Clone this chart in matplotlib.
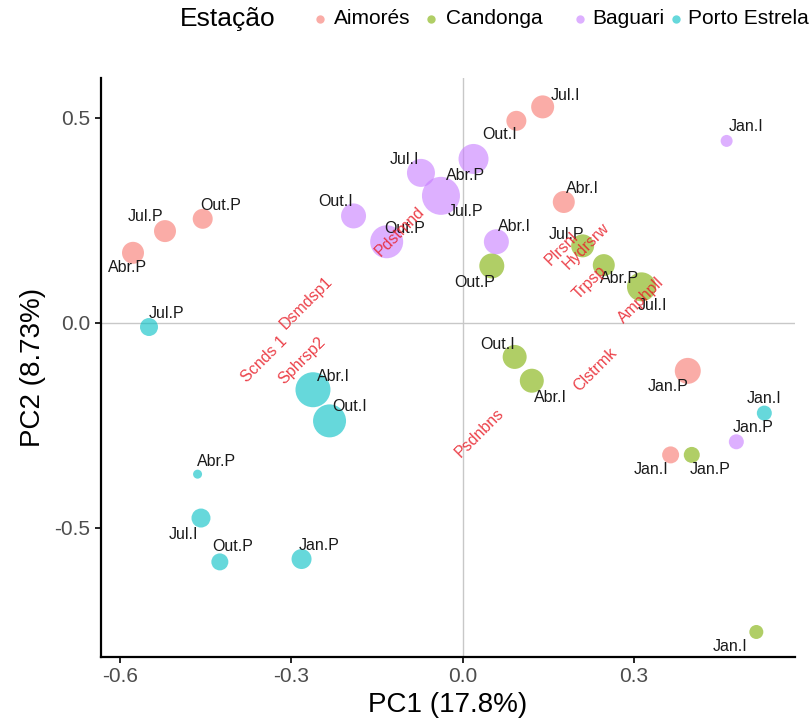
import matplotlib
matplotlib.use("Agg")
import matplotlib.pyplot as plt
from matplotlib.lines import Line2D

plt.rcParams['font.family'] = ['Liberation Sans', 'DejaVu Sans']

# ---- sample scores (PC1, PC2) per station ----
stations = ["Aimorés", "Candonga", "Baguari", "Porto Estrela"]
colors = ["#F8766D", "#7CAE00", "#C77CFF", "#00BFC4"]

aimores_labels = ["Abr.P", "Jul.P", "Out.P", "Out.I", "Jul.I", "Abr.I", "Jan.P", "Jan.I"]
aimores_pc1 = [-0.577, -0.521, -0.455, 0.094, 0.140, 0.177, 0.394, 0.364]
aimores_pc2 = [0.171, 0.224, 0.254, 0.493, 0.527, 0.295, -0.117, -0.322]
aimores_size = [22, 22, 20, 20, 23, 22, 26, 17]

candonga_labels = ["Out.P", "Jul.P", "Abr.P", "Jul.I", "Out.I", "Abr.I", "Jan.P", "Jan.I"]
candonga_pc1 = [0.051, 0.210, 0.247, 0.313, 0.091, 0.121, 0.401, 0.514]
candonga_pc2 = [0.139, 0.188, 0.141, 0.088, -0.083, -0.141, -0.322, -0.754]
candonga_size = [25, 23, 22, 29, 24, 24, 16, 14]

baguari_labels = ["Jan.I", "Abr.P", "Jul.I", "Jul.P", "Out.I", "Out.P", "Abr.I", "Jan.P"]
baguari_pc1 = [0.462, 0.019, -0.073, -0.038, -0.191, -0.133, 0.059, 0.479]
baguari_pc2 = [0.444, 0.400, 0.366, 0.310, 0.261, 0.198, 0.198, -0.290]
baguari_size = [12, 30, 28, 38, 25, 33, 25, 15]

porto_labels = ["Jul.P", "Abr.I", "Out.I", "Abr.P", "Jul.I", "Out.P", "Jan.P", "Jan.I"]
porto_pc1 = [-0.549, -0.262, -0.233, -0.464, -0.458, -0.425, -0.282, 0.528]
porto_pc2 = [-0.010, -0.163, -0.239, -0.369, -0.476, -0.583, -0.576, -0.220]
porto_size = [18, 35, 33, 9, 19, 17, 20, 15]

# ---- species loadings (text only) ----
species = ["Pdstmnd", "Plrsnl", "Hydrsrw", "Trpsp", "Amphpll",
           "Dsmdsp1", "Scnds 1", "Sphrsp2", "Psdnbns", "Clstrmk"]
species_pc1 = [-0.110, 0.173, 0.217, 0.222, 0.313, -0.273, -0.348, -0.282, 0.030, 0.233]
species_pc2 = [0.222, 0.180, 0.188, 0.098, 0.056, 0.049, -0.090, -0.093, -0.268, -0.115]

# label offsets (pixels) for sample names
aimores_off = [(-5, -15), (-19, 15), (18, 13), (-17, -14), (23, 11), (19, 13), (-20, -16), (-20, -15)]
candonga_off = [(-17, -17), (-16, 11), (16, -13), (11, -19), (-17, 12), (19, -17), (18, -15), (-26, -15)]
baguari_off = [(19, 14), (-8, -17), (-17, 13), (25, -16), (-18, 14), (18, 13), (18, 15), (17, 14)]
porto_off = [(18, 14), (20, 13), (20, 14), (19, 13), (-18, -16), (13, 15), (18, 14), (0, 15)]

groups = [
    (aimores_labels, aimores_pc1, aimores_pc2, aimores_size, aimores_off),
    (candonga_labels, candonga_pc1, candonga_pc2, candonga_size, candonga_off),
    (baguari_labels, baguari_pc1, baguari_pc2, baguari_size, baguari_off),
    (porto_labels, porto_pc1, porto_pc2, porto_size, porto_off),
]

W, H = 810, 727
fig = plt.figure(figsize=(W / 100, H / 100), dpi=100)
ax = fig.add_axes([0.1247, 0.0963, 0.8563, 0.7967])

ax.axvline(0, color="#C8C8C8", lw=1.0, zorder=0)
ax.axhline(0, color="#C8C8C8", lw=1.0, zorder=0)

px2pt = 0.72
for (labs, xs, ys, sz, off), col in zip(groups, colors):
    s = [(d * px2pt) ** 2 for d in sz]
    ax.scatter(xs, ys, s=s, color=col, alpha=0.6, edgecolors="none", zorder=2)

for (labs, xs, ys, sz, off), col in zip(groups, colors):
    for lab, x, y, o in zip(labs, xs, ys, off):
        ax.annotate(lab, (x, y), xytext=(o[0] * px2pt, o[1] * px2pt),
                    textcoords="offset points", ha="center", va="center",
                    fontsize=11.5, color="#1A1A1A", zorder=3)

for name, x, y in zip(species, species_pc1, species_pc2):
    ax.text(x, y, name, rotation=45, rotation_mode="anchor", ha="center",
            va="center", fontsize=11.5, color="#E8202A", alpha=0.85, zorder=4)

ax.set_xlim(-0.633, 0.581)
ax.set_ylim(-0.815, 0.598)
ax.set_xticks([-0.6, -0.3, 0.0, 0.3])
ax.set_xticklabels(["-0.6", "-0.3", "0.0", "0.3"])
ax.set_yticks([-0.5, 0.0, 0.5])
ax.set_yticklabels(["-0.5", "0.0", "0.5"])
for sp in ["top", "right"]:
    ax.spines[sp].set_visible(False)
for sp in ["left", "bottom"]:
    ax.spines[sp].set_linewidth(1.6)
    ax.spines[sp].set_color("black")
ax.tick_params(axis="both", colors="#4D4D4D", labelsize=15, length=4, width=1.2)
ax.tick_params(axis="both", which="both", color="black")
ax.set_xlabel("PC1 (17.8%)", fontsize=20, labelpad=4)
ax.set_ylabel("PC2 (8.73%)", fontsize=20, labelpad=6)

# horizontal key across the top
key_y = 1 - 19 / H
fig.text(180 / W, key_y, "Estação", fontsize=19, ha="left", va="center")
key_dot_x = [320, 431, 580, 676]
key_text_x = [334, 446, 592, 688]
for c, name, dx, tx in zip(colors, stations, key_dot_x, key_text_x):
    fig.add_artist(Line2D([dx / W], [key_y], marker="o", markersize=6,
                          markerfacecolor=c, markeredgecolor="none",
                          alpha=0.6, transform=fig.transFigure))
    fig.text(tx / W, key_y, name, fontsize=15, ha="left", va="center")

fig.savefig("out.png", dpi=100)
